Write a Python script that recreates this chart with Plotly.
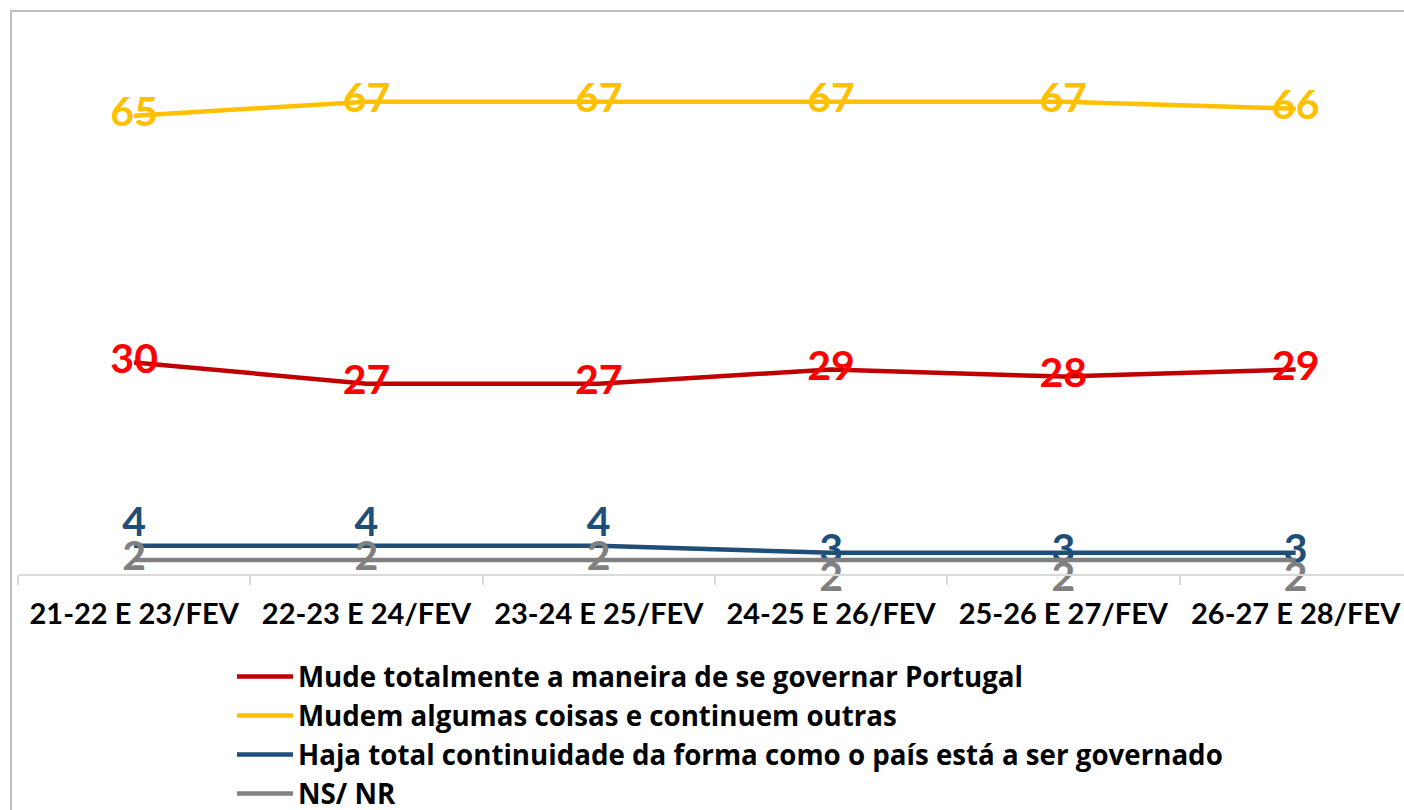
import plotly.graph_objects as go

categories = ["21-22 E 23/FEV", "22-23 E 24/FEV", "23-24 E 25/FEV",
              "24-25 E 26/FEV", "25-26 E 27/FEV", "26-27 E 28/FEV"]
mude_totalmente = [30, 27, 27, 29, 28, 29]
mudem_algumas = [65, 67, 67, 67, 67, 66]
total_continuidade = [4, 4, 4, 3, 3, 3]
ns_nr = [2, 2, 2, 2, 2, 2]

series_names = [
    "Mude totalmente a maneira de se governar Portugal",
    "Mudem algumas coisas e continuem outras",
    "Haja total continuidade da forma como o país está a ser governado",
    "NS/ NR",
]

FONT = "Lato"
fig = go.Figure()

def add(name, values, line_color, text_color, positions):
    fig.add_trace(go.Scatter(
        x=categories, y=values, name=name, mode="lines+text",
        line=dict(color=line_color, width=4.5),
        text=[str(v) for v in values],
        textposition=positions,
        textfont=dict(family=FONT, size=41, color=text_color, weight="bold"),
        cliponaxis=False,
    ))

add(series_names[0], mude_totalmente, "#C00000", "#FF0000", "middle center")
add(series_names[1], mudem_algumas, "#FFC000", "#FFC000", "middle center")
add(series_names[2], total_continuidade, "#1F4E79", "#1F4E79",
    ["top center"] * 3 + ["middle center"] * 3)
add(series_names[3], ns_nr, "#808080", "#808080",
    ["middle center"] * 3 + ["bottom center"] * 3)

L, T, B = 18, 10, 236
plot_w = 1404 - L
plot_h = 810 - T - B

fig.update_layout(
    width=1404, height=810,
    margin=dict(l=L, r=0, t=T, b=B, autoexpand=False),
    paper_bgcolor="white", plot_bgcolor="white",
    font=dict(family=FONT, color="black"),
    showlegend=True,
    legend=dict(
        x=(232 - L) / plot_w, xanchor="left",
        y=-(652 - (T + plot_h)) / plot_h, yanchor="top",
        font=dict(family="Open Sans", size=27.7, color="black", weight="bold"),
        tracegroupgap=0,
        itemwidth=56,
        bgcolor="rgba(0,0,0,0)",
    ),
    xaxis=dict(
        type="category",
        range=[-0.5, -0.5 + plot_w / 232.3],
        showline=True, linecolor="#D9D9D9", linewidth=1.5,
        showgrid=False, zeroline=False,
        ticks="outside", tickson="boundaries", ticklen=9,
        tickcolor="#D9D9D9", tickwidth=1.5,
        tickfont=dict(family=FONT, size=29, color="black", weight="bold"),
        ticklabelstandoff=13,
    ),
    yaxis=dict(range=[0, 80], visible=False, showgrid=False, zeroline=False),
    shapes=[dict(
        type="rect", xref="paper", yref="paper",
        x0=(11 - L) / plot_w, x1=1.05,
        y0=-0.8, y1=1 - (11 - T) / plot_h,
        line=dict(color="#BFBFBF", width=2), layer="below",
    )],
)

fig.write_html(
    "out.html",
    config={"displayModeBar": False},
    post_script="document.body.style.margin='0';document.body.style.overflow='hidden';",
)
